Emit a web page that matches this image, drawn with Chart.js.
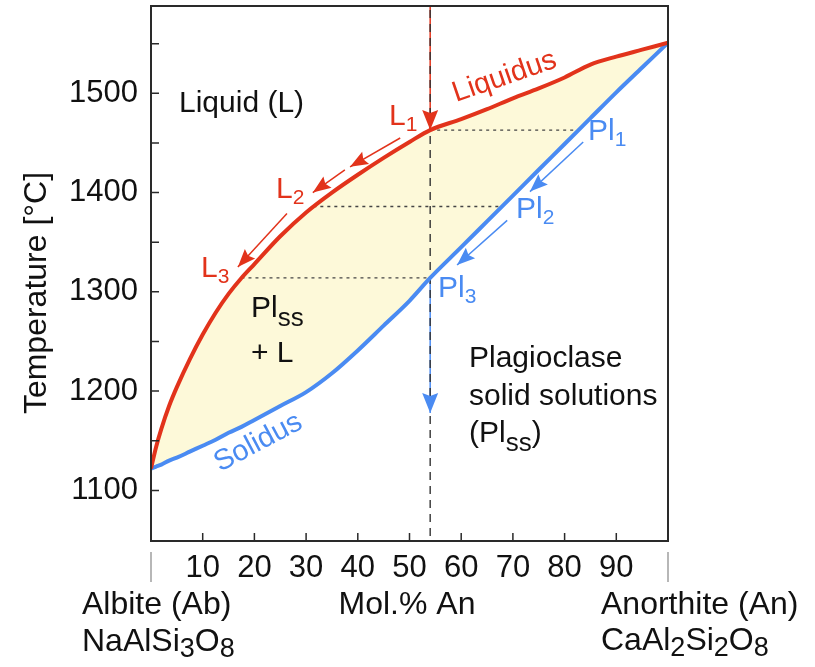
<!DOCTYPE html>
<html>
<head>
<meta charset="utf-8">
<script src="https://cdn.jsdelivr.net/npm/chart.js@4"></script>
<style>
  html, body { margin: 0; padding: 0; background: #fff; }
  canvas { display: block; }
</style>
</head>
<body>
<canvas id="chart" width="815" height="667"></canvas>
<script>
// composition (mol.% An) and temperatures of the two curves
const molAn =     [0,    1,    2,    3.5,  5,    7.5,  10,   12.5, 15,   17.5, 20,   25,   30,   35,   40,   45,   50,   54,   60,   65,   70,   75,   80,   85,   90,   95,   100];
const liquidusT = [1122, 1144, 1162, 1185, 1204, 1232, 1257, 1279, 1298, 1314, 1328, 1356, 1380, 1400, 1418, 1435, 1451, 1463, 1474, 1484, 1495, 1505, 1516, 1529, 1537, 1544, 1551];
const solidusT =  [1122, 1124, 1126, 1130, 1133, 1139, 1145, 1151, 1158, 1164, 1171, 1185, 1199, 1218, 1241, 1266, 1291, 1314, 1345, 1371, 1397, 1423, 1449, 1475, 1501, 1526, 1551];

// cooling path of a melt with 54 mol.% An
const bulkAn = 54;
const tieTemps = [1463, 1386, 1314];
const tieLiquidAn = [54, 31.4, 17.5];
const tieSolidAn = [82.3, 67.5, 54];

// arrows: [fromAn, fromT, toAn, toT]
const liquidArrows = [[48.2, 1455, 38.5, 1426], [37.5, 1423, 31.3, 1400], [26.3, 1379, 16.8, 1325]];
const solidArrows = [[83.6, 1451, 73.3, 1401], [68.9, 1372, 59.2, 1327]];
const coolStartT = 1588;
const coolEndT = 1178;

// axes
const xTicks = [10, 20, 30, 40, 50, 60, 70, 80, 90];
const yTicks = [1100, 1200, 1300, 1400, 1500];
const yTickMarks = [1100, 1150, 1200, 1250, 1300, 1350, 1400, 1450, 1500, 1550];

const RED = '#e2331b';
const BLUE = '#4a8bf2';
const FILL = '#fdf9d9';
const FONT = "'Liberation Sans', Arial, Helvetica, sans-serif";

function seg(x1, y1, x2, y2, color, width, dash, arrow) {
    return {
        data: [{ x: x1, y: y1 }, { x: x2, y: y2 }],
        borderColor: color,
        borderWidth: width,
        borderDash: dash || [],
        pointRadius: 0,
        fill: false,
        arrowHead: arrow || null
    };
}

const datasets = [
    {
        label: 'Liquidus',
        data: molAn.map((x, i) => ({ x: x, y: liquidusT[i] })),
        borderColor: RED,
        borderWidth: 4,
        pointRadius: 0,
        cubicInterpolationMode: 'monotone',
        fill: 1,
        backgroundColor: FILL
    },
    {
        label: 'Solidus',
        data: molAn.map((x, i) => ({ x: x, y: solidusT[i] })),
        borderColor: BLUE,
        borderWidth: 4,
        pointRadius: 0,
        cubicInterpolationMode: 'monotone',
        fill: false
    },
    seg(bulkAn, 1040, bulkAn, 1600, '#333', 1.4, [8, 6])
];
tieTemps.forEach((t, i) => {
    datasets.push(seg(tieLiquidAn[i], t, tieSolidAn[i], t, '#444', 1.3, [3, 4]));
});
datasets.push(seg(bulkAn, coolStartT, bulkAn, tieTemps[0], RED, 1.5, null, { len: 20, half: 8, color: RED }));
datasets.push(seg(bulkAn, tieTemps[2], bulkAn, coolEndT, BLUE, 1.5, null, { len: 20, half: 8, color: BLUE }));
liquidArrows.forEach(a => {
    datasets.push(seg(a[0], a[1], a[2], a[3], RED, 1.5, null, { len: 18, half: 7, color: RED }));
});
solidArrows.forEach(a => {
    datasets.push(seg(a[0], a[1], a[2], a[3], BLUE, 1.5, null, { len: 18, half: 7, color: BLUE }));
});

const arrowPlugin = {
    id: 'arrowHeads',
    afterDatasetsDraw(chart) {
        const ctx = chart.ctx;
        chart.data.datasets.forEach((ds, i) => {
            if (!ds.arrowHead) return;
            const pts = chart.getDatasetMeta(i).data;
            const a = pts[pts.length - 2], b = pts[pts.length - 1];
            const ang = Math.atan2(b.y - a.y, b.x - a.x);
            const h = ds.arrowHead;
            ctx.save();
            ctx.translate(b.x, b.y);
            ctx.rotate(ang);
            ctx.fillStyle = h.color;
            ctx.beginPath();
            ctx.moveTo(0, 0);
            ctx.lineTo(-h.len, -h.half);
            ctx.lineTo(-h.len * 0.85, 0);
            ctx.lineTo(-h.len, h.half);
            ctx.closePath();
            ctx.fill();
            ctx.restore();
        });
    }
};

const framePlugin = {
    id: 'frame',
    afterDatasetsDraw(chart) {
        const ctx = chart.ctx;
        const area = chart.chartArea;
        const xs = chart.scales.x, ys = chart.scales.y;
        ctx.save();
        ctx.strokeStyle = '#2a2a2a';
        ctx.lineWidth = 2;
        ctx.strokeRect(area.left, area.top, area.right - area.left, area.bottom - area.top);
        ctx.lineWidth = 1.5;
        ctx.beginPath();
        yTickMarks.forEach(v => {
            const y = ys.getPixelForValue(v);
            ctx.moveTo(area.left, y);
            ctx.lineTo(area.left + 8, y);
        });
        xTicks.forEach(v => {
            const x = xs.getPixelForValue(v);
            ctx.moveTo(x, area.bottom);
            ctx.lineTo(x, area.bottom - 8);
        });
        ctx.stroke();
        // end-member brackets below the axis
        ctx.strokeStyle = '#888';
        ctx.lineWidth = 1.2;
        ctx.beginPath();
        [0, 100].forEach(v => {
            const x = xs.getPixelForValue(v);
            ctx.moveTo(x, area.bottom + 11);
            ctx.lineTo(x, area.bottom + 41);
        });
        ctx.stroke();
        ctx.restore();
    }
};

// text with subscripts: parts = [[text, isSub], ...]
function rich(ctx, parts, x, y, size, subSize, drop, color) {
    ctx.fillStyle = color;
    ctx.textBaseline = 'alphabetic';
    ctx.textAlign = 'left';
    let cx = x;
    parts.forEach(p => {
        ctx.font = (p[1] ? subSize : size) + 'px ' + FONT;
        ctx.fillText(p[0], cx, p[1] ? y + drop : y);
        cx += ctx.measureText(p[0]).width;
    });
}

const textPlugin = {
    id: 'labels',
    afterDraw(chart) {
        const ctx = chart.ctx;
        ctx.save();
        // inside plot
        rich(ctx, [['Liquid (L)', 0]], 179, 112, 30, 21, 6, '#111');
        rich(ctx, [['L', 0], ['1', 1]], 389, 125, 30, 21, 6, RED);
        rich(ctx, [['L', 0], ['2', 1]], 276, 198, 30, 21, 6, RED);
        rich(ctx, [['L', 0], ['3', 1]], 201, 277, 30, 21, 6, RED);
        rich(ctx, [['Pl', 0], ['1', 1]], 588, 140, 30, 21, 6, BLUE);
        rich(ctx, [['Pl', 0], ['2', 1]], 516, 218, 30, 21, 6, BLUE);
        rich(ctx, [['Pl', 0], ['3', 1]], 438, 297, 30, 21, 6, BLUE);
        rich(ctx, [['Pl', 0], ['ss', 1]], 251, 317, 30, 26, 9, '#111');
        rich(ctx, [['+ L', 0]], 251, 362, 30, 21, 6, '#111');
        rich(ctx, [['Plagioclase', 0]], 469, 367, 30, 21, 6, '#111');
        rich(ctx, [['solid solutions', 0]], 469, 405, 30, 21, 6, '#111');
        rich(ctx, [['(Pl', 0], ['ss', 1], [')', 0]], 469, 442, 30, 26, 9, '#111');

        ctx.save();
        ctx.translate(456, 102);
        ctx.rotate(-19 * Math.PI / 180);
        rich(ctx, [['Liquidus', 0]], 0, 0, 29, 21, 6, RED);
        ctx.restore();

        ctx.save();
        ctx.translate(220, 472);
        ctx.rotate(-28 * Math.PI / 180);
        rich(ctx, [['Solidus', 0]], 0, 0, 29, 21, 6, BLUE);
        ctx.restore();

        // axis titles
        ctx.save();
        ctx.translate(37, 293);
        ctx.rotate(-Math.PI / 2);
        ctx.font = '32px ' + FONT;
        ctx.fillStyle = '#111';
        ctx.textAlign = 'center';
        ctx.textBaseline = 'middle';
        ctx.fillText('Temperature [°C]', 0, 0);
        ctx.restore();

        rich(ctx, [['Albite (Ab)', 0]], 82, 614, 32, 27, 6, '#111');
        rich(ctx, [['NaAlSi', 0], ['3', 1], ['O', 0], ['8', 1]], 82, 651, 32, 27, 6, '#111');
        ctx.font = '32px ' + FONT;
        const w = ctx.measureText('Mol.% An').width;
        rich(ctx, [['Mol.% An', 0]], 407 - w / 2, 614, 32, 27, 6, '#111');
        rich(ctx, [['Anorthite (An)', 0]], 601, 614, 32, 27, 6, '#111');
        rich(ctx, [['CaAl', 0], ['2', 1], ['Si', 0], ['2', 1], ['O', 0], ['8', 1]], 601, 650, 32, 27, 6, '#111');
        ctx.restore();
    }
};

function noEdgePadding(s) {
    s.paddingTop = 0;
    s.paddingBottom = 0;
    s.paddingLeft = 0;
    s.paddingRight = 0;
}

new Chart(document.getElementById('chart').getContext('2d'), {
    type: 'line',
    data: { datasets: datasets },
    options: {
        responsive: false,
        animation: false,
        devicePixelRatio: 1,
        layout: { padding: { top: 6, right: 147, left: 0, bottom: 0 } },
        plugins: {
            legend: { display: false },
            tooltip: { enabled: false },
            filler: { drawTime: 'beforeDatasetsDraw' }
        },
        scales: {
            x: {
                type: 'linear',
                min: 0,
                max: 100,
                grid: { display: false, drawTicks: false },
                border: { display: false },
                afterBuildTicks: s => { s.ticks = xTicks.map(v => ({ value: v })); },
                afterFit: s => { s.height = 126; noEdgePadding(s); },
                ticks: {
                    autoSkip: false,
                    maxRotation: 0,
                    padding: 9,
                    color: '#111',
                    font: { family: FONT, size: 31 },
                    callback: v => String(v)
                }
            },
            y: {
                type: 'linear',
                min: 1049,
                max: 1588,
                grid: { display: false, drawTicks: false },
                border: { display: false },
                afterBuildTicks: s => { s.ticks = yTicks.map(v => ({ value: v })); },
                afterFit: s => { s.width = 151; noEdgePadding(s); },
                ticks: {
                    padding: 13,
                    color: '#111',
                    font: { family: FONT, size: 31 },
                    callback: v => String(v)
                }
            }
        }
    },
    plugins: [framePlugin, arrowPlugin, textPlugin]
});
</script>
</body>
</html>
